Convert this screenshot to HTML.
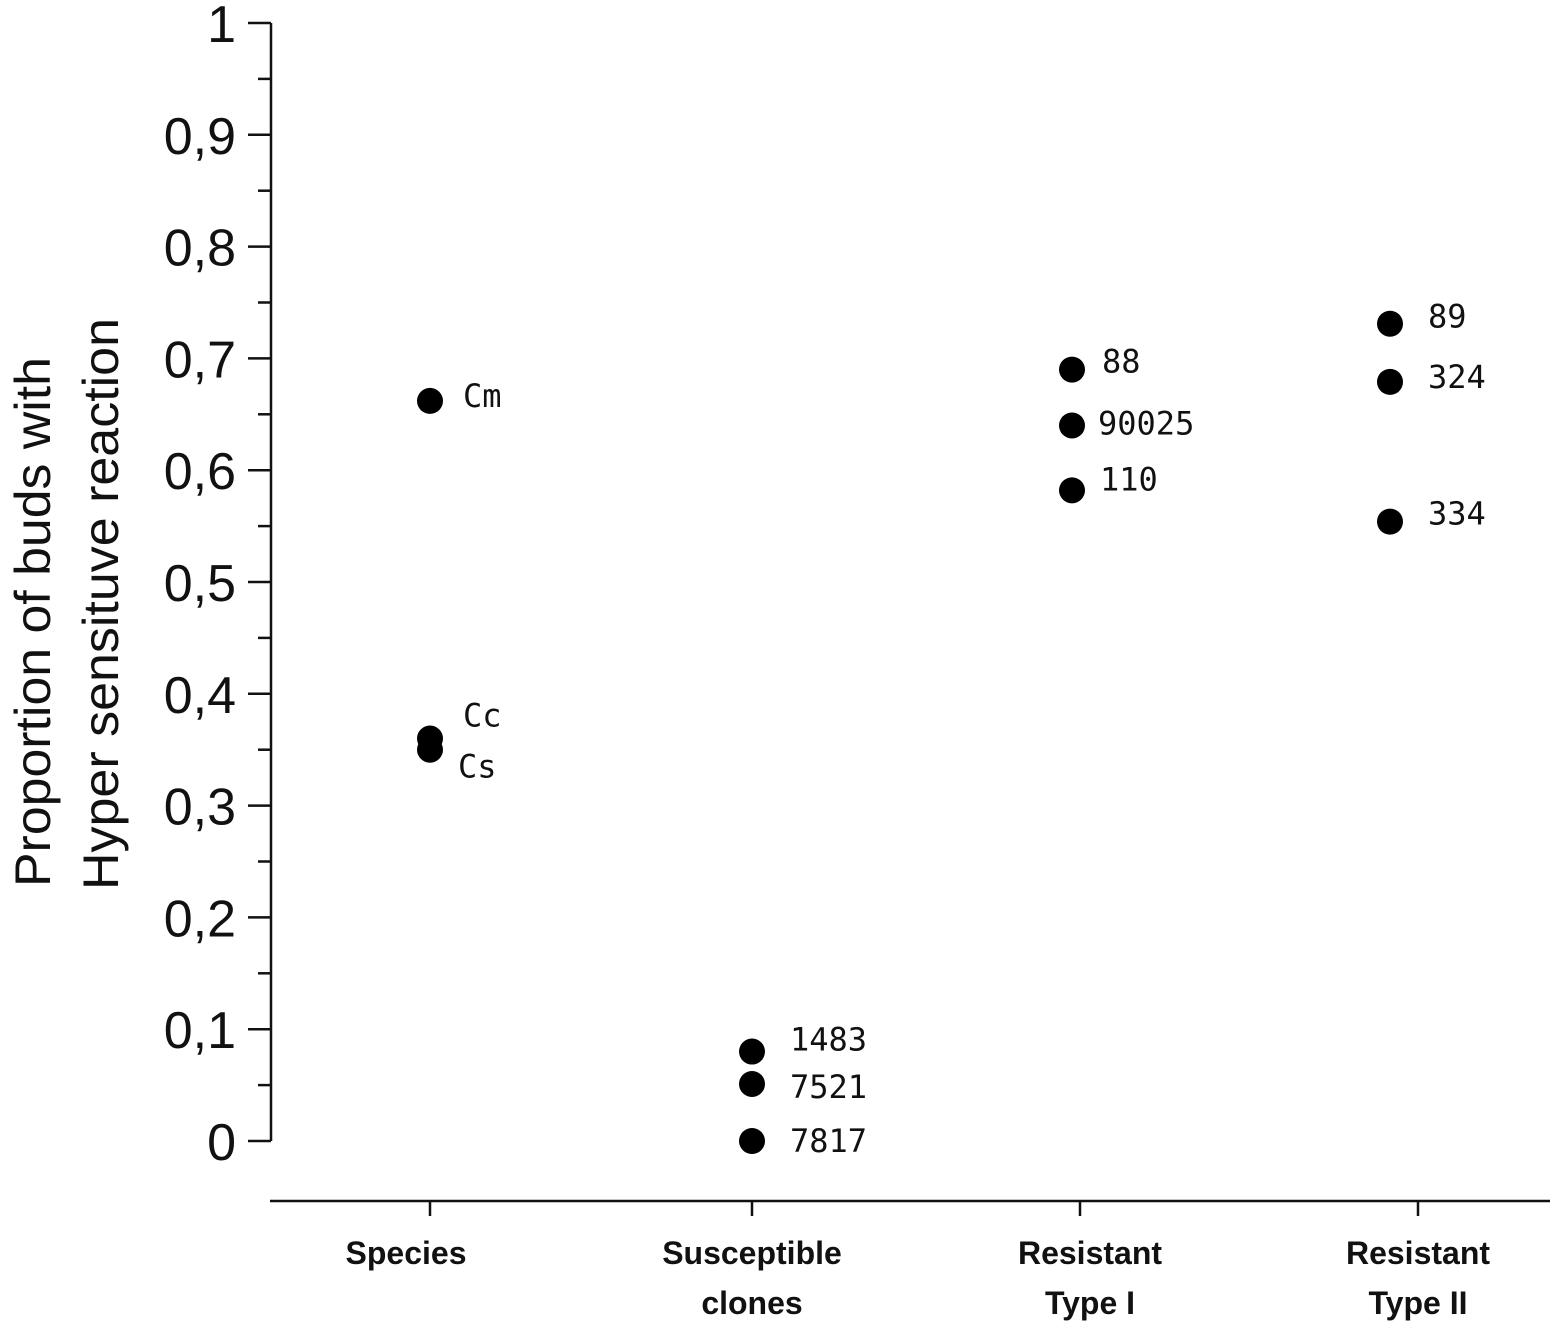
<!DOCTYPE html>
<html><head><meta charset="utf-8"><style>
body{margin:0;background:#fff}
svg{display:block}
text{font-family:"Liberation Sans",sans-serif;fill:#111}
text.pl{font-family:"DejaVu Sans Mono","Liberation Mono",monospace}
</style></head><body>
<svg width="1555" height="1328">
<g id="axes"></g>
<g id="marks"></g>
</svg>
<script>
const categories=["Species","Susceptible|clones","Resistant|Type I","Resistant|Type II"];
const pointLabels=[["Cm","Cc","Cs"],["1483","7521","7817"],["88","90025","110"],["89","324","334"]];
const pointValues=[[0.662,0.36,0.35],[0.08,0.051,0.0],[0.69,0.64,0.582],[0.731,0.679,0.554]];
const yTicks=[0,0.1,0.2,0.3,0.4,0.5,0.6,0.7,0.8,0.9,1];
const yTickLabels=["0","0,1","0,2","0,3","0,4","0,5","0,6","0,7","0,8","0,9","1"];
const catTickX=[430,752,1080,1418];
const ptX=[430,752,1072,1390];
const lblOff=[[[33,6],[33,-12],[28,28]],[[38,-1],[38,14],[38,11]],[[30,3],[26,9],[28,0]],[[38,4],[38,6],[38,3]]];
function y(v){return 1141-v*1118;}
const NS="http://www.w3.org/2000/svg";
function el(t,a,p){const e=document.createElementNS(NS,t);for(const k in a)e.setAttribute(k,a[k]);p.appendChild(e);return e;}
const ax=document.getElementById('axes'),mk=document.getElementById('marks');
let e=el('line',{x1:271,y1:y(1),x2:271,y2:y(0),stroke:'#111','stroke-width':2.5},ax);


e=el('line',{x1:270,y1:1201,x2:1550,y2:1201,stroke:'#111','stroke-width':2.5},ax);


yTicks.forEach((v,i)=>{
 let t=el('line',{x1:248,y1:y(v),x2:271,y2:y(v),stroke:'#111','stroke-width':2.5},ax);
 
 
 if(i<yTicks.length-1){let m=el('line',{x1:258,y1:y(v+0.05),x2:271,y2:y(v+0.05),stroke:'#111','stroke-width':2.5},ax);
 
 }
 let l=el('text',{x:236,y:y(v)+19,'text-anchor':'end','font-size':52},ax);l.textContent=yTickLabels[i];
 
 
});
categories.forEach((c,i)=>{
 let t=el('line',{x1:catTickX[i],y1:1201,x2:catTickX[i],y2:1216,stroke:'#111','stroke-width':2.5},ax);
 
 
 c.split('|').forEach((s,j)=>{let l=el('text',{x:catTickX[i]-(i==0?24:0)+(i==2?10:0),y:1264+j*50,'text-anchor':'middle','font-size':32,'font-weight':'bold'},ax);l.textContent=s;
 
 });
});
let yt=el('text',{transform:'translate(50,622) rotate(-90)','text-anchor':'middle','font-size':50,textLength:530,lengthAdjust:'spacingAndGlyphs'},ax);yt.textContent='Proportion of buds with';


yt=el('text',{transform:'translate(118,604) rotate(-90)','text-anchor':'middle','font-size':50,textLength:572,lengthAdjust:'spacingAndGlyphs'},ax);yt.textContent='Hyper sensituve reaction';


pointValues.forEach((vals,i)=>vals.forEach((v,j)=>{
 let c=el('circle',{cx:ptX[i],cy:y(v),r:13,fill:'#000'},mk);
 
 
 let l=el('text',{x:ptX[i]+lblOff[i][j][0],y:y(v)+lblOff[i][j][1],'font-size':32,'class':'pl'},mk);l.textContent=pointLabels[i][j];
 
 
}));
</script>
</body></html>
